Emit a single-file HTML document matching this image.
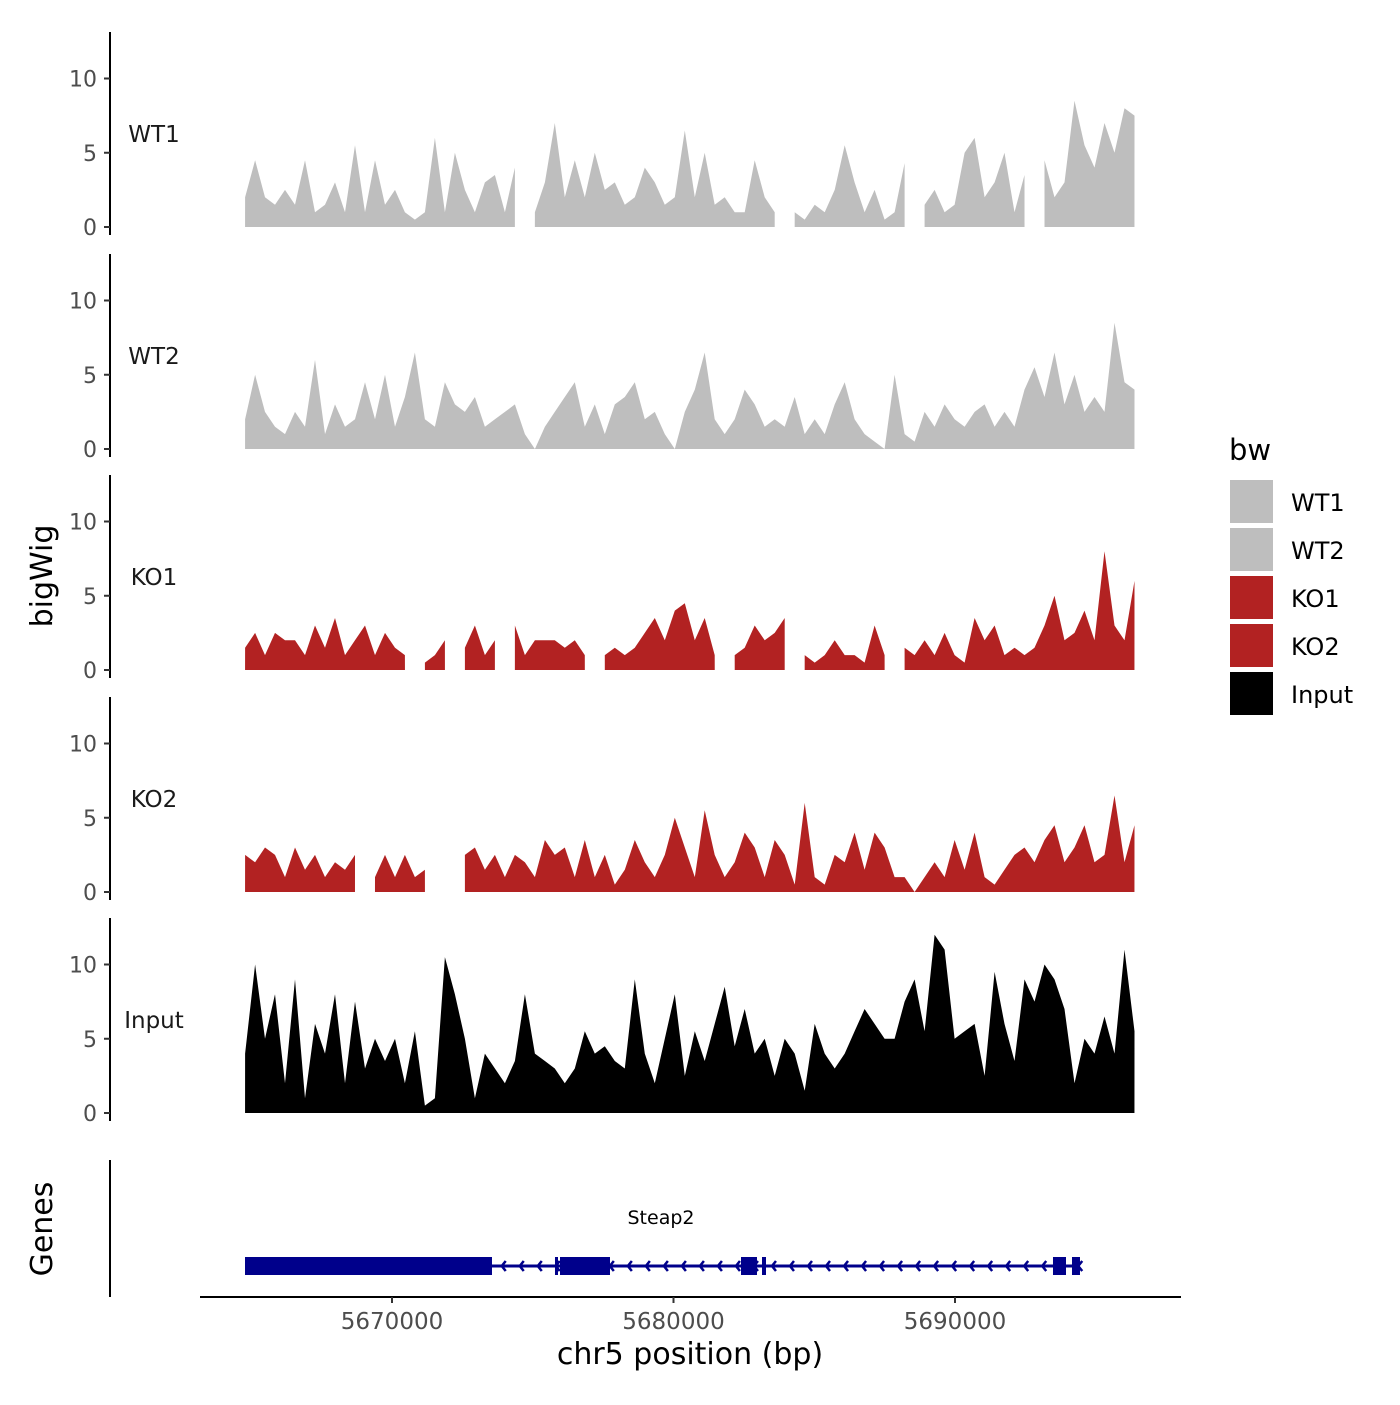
<!DOCTYPE html>
<html><head><meta charset="utf-8"><style>
body{margin:0;background:#fff}
text{font-family:"DejaVu Sans","Liberation Sans",sans-serif}
</style></head><body>
<svg id="chart" width="1400" height="1400" xmlns="http://www.w3.org/2000/svg"></svg>
<script>
const trackNames = ["WT1","WT2","KO1","KO2","Input"];
const trackColors = ["#bebebe","#bebebe","#b22222","#b22222","#000000"];
const yTicks = [0,5,10];
const xTicks = [5670000,5680000,5690000];
const startBp = 5664780, stepBp = 355;
const wt1 = [2,4.5,2,1.5,2.5,1.5,4.5,1,1.5,3,1,5.5,1,4.5,1.5,2.5,1,0.5,1,6,1,5,2.5,1,3,3.5,1,4,null,1,3,7,2,4.5,2,5,2.5,3,1.5,2,4,3,1.5,2,6.5,2,5,1.5,2,1,1,4.5,2,1,null,1,0.5,1.5,1,2.5,5.5,3,1,2.5,0.5,1,4.3,null,1.5,2.5,1,1.5,5,6,2,3,5,1,3.5,null,4.5,2,3,8.5,5.5,4,7,5,8,7.5];
const wt2 = [2,5,2.5,1.5,1,2.5,1.5,6,1,3,1.5,2,4.5,2,5,1.5,3.5,6.5,2,1.5,4.5,3,2.5,3.5,1.5,2,2.5,3,1,0,1.5,2.5,3.5,4.5,1.5,3,1,3,3.5,4.5,2,2.5,1,0,2.5,4,6.5,2,1,2,4,3,1.5,2,1.5,3.5,1,2,1,3,4.5,2,1,0.5,0,5,1,0.5,2.5,1.5,3,2,1.5,2.5,3,1.5,2.5,1.5,4,5.5,3.5,6.5,3,5,2.5,3.5,2.5,8.5,4.5,4];
const ko1 = [1.5,2.5,1,2.5,2,2,1,3,1.5,3.5,1,2,3,1,2.5,1.5,1,null,0.5,1,2,null,1.5,3,1,2,null,3,1,2,2,2,1.5,2,1,null,1,1.5,1,1.5,2.5,3.5,2,4,4.5,2,3.5,1,null,1,1.5,3,2,2.5,3.5,null,1,0.5,1,2,1,1,0.5,3,1,null,1.5,1,2,1,2.5,1,0.5,3.5,2,3,1,1.5,1,1.5,3,5,2,2.5,4,2,8,3,2,6];
const ko2 = [2.5,2,3,2.5,1,3,1.5,2.5,1,2,1.5,2.5,null,1,2.5,1,2.5,1,1.5,null,7.5,null,2.5,3,1.5,2.5,1,2.5,2,1,3.5,2.5,3,1,3.5,1,2.5,0.5,1.5,3.5,2,1,2.5,5,3,1,5.5,2.5,1,2,4,3,1,3.5,2.5,0.5,6,1,0.5,2.5,2,4,1.5,4,3,1,1,0,1,2,1,3.5,1.5,4,1,0.5,1.5,2.5,3,2,3.5,4.5,2,3,4.5,2,2.5,6.5,2,4.5];
const input = [4,10,5,8,2,9,1,6,4,8,2,7.5,3,5,3.5,5,2,5.5,0.5,1,10.5,8,5,1,4,3,2,3.5,8,4,3.5,3,2,3,5.5,4,4.5,3.5,3,9,4,2,5,8,2.5,5.5,3.5,6,8.5,4.5,7,4,5,2.5,5,4,1.5,6,4,3,4,5.5,7,6,5,5,7.5,9,5.5,12,11,5,5.5,6,2.5,9.5,6,3.5,9,7.5,10,9,7,2,5,4,6.5,4,11,5.5];
const series = [wt1,wt2,ko1,ko2,input];
const exonStarts = [5664778,5675790,5675968,5682398,5683144,5693481,5694156];
const exonEnds   = [5673552,5675897,5677744,5682966,5683286,5693943,5694440];
const geneStart = 5664778, geneEnd = 5694440;

const NS="http://www.w3.org/2000/svg";
const svg=document.getElementById('chart');
function el(t,a,p){const e=document.createElementNS(NS,t);for(const k in a)e.setAttribute(k,a[k]);(p||svg).appendChild(e);return e;}
const xS = bp => 392 + (bp-5670000)*0.02815;
const panelZero = [227,449,670,892,1113];
const ppu = 14.85;

series.forEach((vals,ti)=>{
  const z=panelZero[ti], yS=v=>z-v*ppu;
  const g=el('g',{});
  
  
  const ax=el('line',{x1:110,x2:110,y1:z-195,y2:z+8,stroke:'#000','stroke-width':2},g);
  
  
  yTicks.forEach(t=>{
    el('line',{x1:104,x2:110,y1:yS(t),y2:yS(t),stroke:'#333','stroke-width':2},g);
    const tx=el('text',{x:97,y:yS(t)+8,'text-anchor':'end','font-size':22,fill:'#4d4d4d'},g);
    tx.textContent=t;
    
    
  });
  const lb=el('text',{x:154,y:z-85,'text-anchor':'middle','font-size':23,fill:'#1a1a1a'},g);
  lb.textContent=trackNames[ti];
  
  
  let seg=[];
  const flush=()=>{
    if(seg.length){
      let d='M'+xS(seg[0][0])+','+z;
      seg.forEach(p=>d+=' L'+xS(p[0]).toFixed(1)+','+yS(p[1]).toFixed(1));
      d+=' L'+xS(seg[seg.length-1][0])+','+z+'Z';
      const p=el('path',{d:d,fill:trackColors[ti]},g);
      
      
    }
    seg=[];
  };
  vals.forEach((v,i)=>{const bp=startBp+i*stepBp; if(v===null)flush(); else seg.push([bp,v]);});
  flush();
});

const gAx=el('line',{x1:110,x2:110,y1:1160,y2:1297,stroke:'#000','stroke-width':2});


const gl=el('line',{x1:xS(geneStart),x2:xS(geneEnd),y1:1266,y2:1266,stroke:'#00008b','stroke-width':3});


for(let bp=geneStart+800;bp<geneEnd;bp+=640){
  const x=xS(bp);
  const a=el('path',{d:`M${x+4},${1261} L${x},${1266} L${x+4},${1271}`,fill:'none',stroke:'#00008b','stroke-width':2.5});
  
  
}
exonStarts.forEach((s,i)=>{
  const r=el('rect',{x:xS(s),y:1257,width:Math.max(3,xS(exonEnds[i])-xS(s)),height:18,fill:'#00008b'});
  
  
});
const gn=el('text',{x:661,y:1224,'text-anchor':'middle','font-size':19,fill:'#000'});
gn.textContent='Steap2';



const xa=el('line',{x1:200,x2:1181,y1:1297,y2:1297,stroke:'#000','stroke-width':2});


xTicks.forEach(t=>{
  el('line',{x1:xS(t),x2:xS(t),y1:1297,y2:1303,stroke:'#333','stroke-width':2});
  const tx=el('text',{x:xS(t),y:1329,'text-anchor':'middle','font-size':23,fill:'#4d4d4d'});
  tx.textContent=t;
  
  
});
const xt=el('text',{x:690,y:1364,'text-anchor':'middle','font-size':30,fill:'#000'});
xt.textContent='chr5 position (bp)';


const yt=el('text',{x:0,y:0,'text-anchor':'middle','font-size':30,fill:'#000',transform:'translate(52,576) rotate(-90)'});
yt.textContent='bigWig';


const gt=el('text',{x:0,y:0,'text-anchor':'middle','font-size':30,fill:'#000',transform:'translate(52,1229) rotate(-90)'});
gt.textContent='Genes';



const lt=el('text',{x:1229,y:460,'font-size':29,fill:'#000'});
lt.textContent='bw';


trackNames.forEach((n,i)=>{
  const y=480+i*48;
  const r=el('rect',{x:1230,y:y,width:43,height:43,fill:trackColors[i]});
  
  
  const t=el('text',{x:1291,y:y+31,'font-size':24,fill:'#000'});
  t.textContent=n;
  
  
});
</script>
</body></html>
